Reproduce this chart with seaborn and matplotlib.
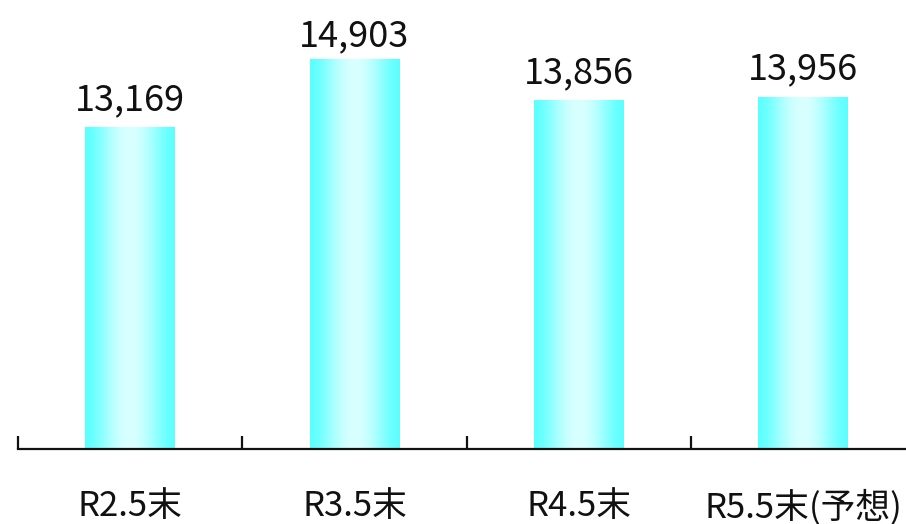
import numpy as np
import pandas as pd
import matplotlib
matplotlib.use("Agg")
import matplotlib.pyplot as plt
import seaborn as sns

# Data
categories = ["R2.5末", "R3.5末", "R4.5末", "R5.5末(予想)"]
values = [13169, 14903, 13856, 13956]
value_labels = ["13,169", "14,903", "13,856", "13,956"]

sns.set_theme(style="white")
plt.rcParams["font.family"] = ["Noto Sans CJK JP", "DejaVu Sans"]

W, H, DPI = 906, 524, 100
fig = plt.figure(figsize=(W / DPI, H / DPI), dpi=DPI)

y_min, y_max = 5000, 16000
base_px = 449            # pixel row of the baseline
px_per_unit = 0.0393
left_px = 18
slot_px = 224.3
ax_h_px = (y_max - y_min) * px_per_unit
ax = fig.add_axes([left_px / W, (H - base_px) / H,
                   4 * slot_px / W, ax_h_px / H])

df = pd.DataFrame({"category": categories, "value": values})
sns.barplot(data=df, x="category", y="value", ax=ax, color="#66ffff",
            width=0.40, saturation=1.0, edgecolor="none")

ax.set_xlim(-0.5, 3.5)
ax.set_ylim(y_min, y_max)

# horizontal gradient fill for each bar: cyan edges, pale centre
t = np.linspace(0, 1, 256)
w = np.cos((t - 0.5) * np.pi) ** 1.6
edge = np.array([0.36, 1.0, 1.0])
centre = np.array([0.85, 1.0, 1.0])
grad = edge[None, :] * (1 - w[:, None]) + centre[None, :] * w[:, None]
grad = grad[None, :, :]
for p in ax.patches:
    x0, wd, h = p.get_x(), p.get_width(), p.get_height()
    ax.imshow(grad, extent=[x0, x0 + wd, y_min, h], aspect="auto",
              interpolation="bilinear", zorder=p.get_zorder() + 0.1)
ax.set_xlim(-0.5, 3.5)
ax.set_ylim(y_min, y_max)

# value labels above bars, kept clear of the top edge
off_units = 18 / px_per_unit
cap = y_max - 30 / px_per_unit
for i, (v, lab) in enumerate(zip(values, value_labels)):
    ax.text(i, min(v + off_units, cap), lab, ha="center", va="baseline",
            fontsize=26, color="#111111")

# spines and ticks
for s in ["top", "right", "left"]:
    ax.spines[s].set_visible(False)
ax.spines["bottom"].set_color("#111111")
ax.spines["bottom"].set_linewidth(1.6)
ax.set_yticks([])
ax.set_xticks([-0.5, 0.5, 1.5, 2.5, 3.5])
ax.set_xticklabels([])
ax.tick_params(axis="x", which="major", direction="in", length=9.5,
               width=1.6, color="#111111", bottom=True)
ax.set_xticks(range(len(categories)), minor=True)
ax.set_xticklabels(categories, minor=True, fontsize=25, color="#111111")
ax.tick_params(axis="x", which="minor", length=0, pad=29)
ax.set_xlabel("")
ax.set_ylabel("")
ax.grid(False)

fig.savefig("out.png", dpi=DPI)
